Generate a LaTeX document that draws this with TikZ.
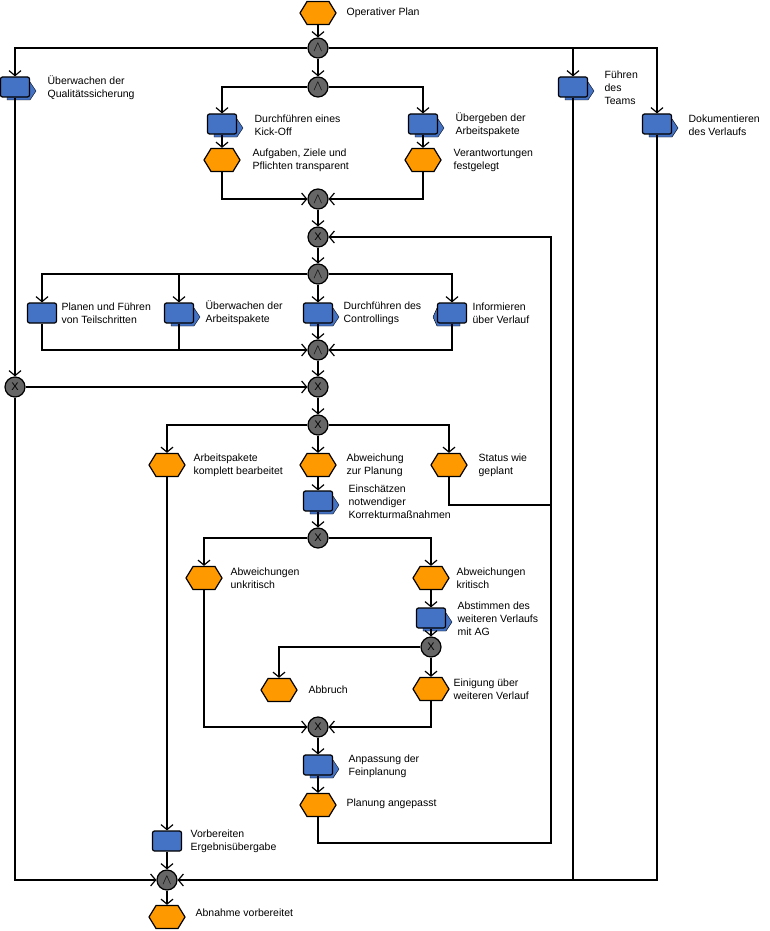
\documentclass[tikz,border=0pt]{standalone}
\usepackage{fontspec}
\setmainfont{Liberation Sans}
\usetikzlibrary{shapes.symbols,arrows.meta,backgrounds}
\definecolor{ereignisorange}{HTML}{FF9900}
\definecolor{funktionblau}{HTML}{4472C4}
\definecolor{konngrau}{HTML}{666666}
\newcommand{\und}{{\fontsize{15}{15}\selectfont$\land$}}
\tikzset{
  ereignis/.style={signal, signal to=west and east, signal pointer angle=117,
    draw, fill=ereignisorange, minimum width=36pt, minimum height=23pt, inner sep=0pt},
  funktion/.style={draw, fill=funktionblau, rounded corners=2pt,
    minimum width=29pt, minimum height=20pt, inner sep=0pt},
  konnektor/.style={circle, draw, fill=konngrau, minimum size=20pt, inner sep=0pt,
    font=\fontsize{11}{11}\selectfont},
  beschriftung/.style={anchor=west, align=left, inner sep=0pt,
    font=\fontsize{10.5}{13}\selectfont},
  fluss/.style={-{Straight Barb[length=5pt,width=12pt]}}
}
\begin{document}
\begin{tikzpicture}[x=1pt,y=-1pt,line width=1.2pt]
        \useasboundingbox (0,0) rectangle (770,931);
        % Ereignisse
        \node[ereignis] (plan) at (318,13) {};
        \node[ereignis] (aufg) at (222,160) {};
        \node[ereignis] (verant) at (423,160) {};
        \node[ereignis] (komplett) at (167,465) {};
        \node[ereignis] (abw) at (318,465) {};
        \node[ereignis] (status) at (449,465) {};
        \node[ereignis] (unkrit) at (204,578) {};
        \node[ereignis] (krit) at (431,578) {};
        \node[ereignis] (abbruch) at (279,690) {};
        \node[ereignis] (einig) at (431,689) {};
        \node[ereignis] (angep) at (318,805) {};
        \node[ereignis] (abnahme) at (167,917) {};
        % Funktionen
        \node[funktion] (qs) at (15,87) {};
        \node[funktion] (kick) at (222,124) {};
        \node[funktion] (uebergabe) at (423,124) {};
        \node[funktion] (team) at (573,87) {};
        \node[funktion] (doku) at (657,124) {};
        \node[funktion] (planen) at (42,313) {};
        \node[funktion] (ueberap) at (179,313) {};
        \node[funktion] (contr) at (318,313) {};
        \node[funktion] (info) at (452,313) {};
        \node[funktion] (einsch) at (318,501) {};
        \node[funktion] (abst) at (431,618) {};
        \node[funktion] (anp) at (318,765) {};
        \node[funktion] (vorb) at (167,841) {};
        % Hinterlegte Prozesse
        \begin{scope}[on background layer]
            \foreach \f in {qs,kick,uebergabe,team,doku,ueberap,contr,einsch,abst,anp}{
                \draw[fill=funktionblau] ([shift={(-8,13)}]\f.center) -- ([shift={(15,13)}]\f.center)
                    -- ([shift={(21,4)}]\f.center) -- ([shift={(15,-5)}]\f.center)
                    -- ([shift={(-8,-5)}]\f.center) -- cycle;
            }
            \draw[fill=funktionblau] ([shift={(8,13)}]info.center) -- ([shift={(-15,13)}]info.center)
                -- ([shift={(-19,4)}]info.center) -- ([shift={(-15,-5)}]info.center)
                -- ([shift={(8,-5)}]info.center) -- cycle;
        \end{scope}
        % Konnektoren
        \node[konnektor] (and1) at (318,48) {\und};
        \node[konnektor] (and2) at (318,87) {\und};
        \node[konnektor] (and3) at (318,199) {\und};
        \node[konnektor] (xor1) at (318,237) {X};
        \node[konnektor] (and4) at (318,274) {\und};
        \node[konnektor] (and5) at (318,350) {\und};
        \node[konnektor] (xorl) at (15,387) {X};
        \node[konnektor] (xor2) at (318,387) {X};
        \node[konnektor] (xor3) at (318,425) {X};
        \node[konnektor] (xor4) at (318,538) {X};
        \node[konnektor] (xor5) at (431,647) {X};
        \node[konnektor] (xor6) at (318,727) {X};
        \node[konnektor] (and7) at (167,880) {\und};
        \coordinate (rueck) at (551,237);
        \coordinate (rueckmitte) at (551,505);
        \coordinate (rueckende) at (551,843);
        % Beschriftungen
        \node[beschriftung] (plan-t) at (346,13) {Operativer Plan};
        \node[beschriftung] (qs-t) at (47,88) {Überwachen der\\Qualitätssicherung};
        \node[beschriftung] (kick-t) at (254,125) {Durchführen eines\\Kick-Off};
        \node[beschriftung] (aufg-t) at (252,160) {Aufgaben, Ziele und\\Pflichten transparent};
        \node[beschriftung] (uebergabe-t) at (455,125) {Übergeben der\\Arbeitspakete};
        \node[beschriftung] (verant-t) at (453,160) {Verantwortungen\\festgelegt};
        \node[beschriftung] (team-t) at (604,88) {Führen\\des\\Teams};
        \node[beschriftung] (doku-t) at (688,125) {Dokumentieren\\des Verlaufs};
        \node[beschriftung] (planen-t) at (61,313) {Planen und Führen\\von Teilschritten};
        \node[beschriftung] (ueberap-t) at (205,313) {Überwachen der\\Arbeitspakete};
        \node[beschriftung] (contr-t) at (343,313) {Durchführen des\\Controllings};
        \node[beschriftung] (info-t) at (472,313) {Informieren\\über Verlauf};
        \node[beschriftung] (komplett-t) at (193,465) {Arbeitspakete\\komplett bearbeitet};
        \node[beschriftung] (abw-t) at (346,465) {Abweichung\\zur Planung};
        \node[beschriftung] (status-t) at (478,465) {Status wie\\geplant};
        \node[beschriftung] (einsch-t) at (348,502) {Einschätzen\\notwendiger\\Korrekturmaßnahmen};
        \node[beschriftung] (unkrit-t) at (230,578) {Abweichungen\\unkritisch};
        \node[beschriftung] (krit-t) at (456,578) {Abweichungen\\kritisch};
        \node[beschriftung] (abst-t) at (457,619) {Abstimmen des\\weiteren Verlaufs\\mit AG};
        \node[beschriftung] (abbruch-t) at (308,690) {Abbruch};
        \node[beschriftung] (einig-t) at (453,689) {Einigung über\\weiteren Verlauf};
        \node[beschriftung] (anp-t) at (348,766) {Anpassung der\\Feinplanung};
        \node[beschriftung] (angep-t) at (346,804) {Planung angepasst};
        \node[beschriftung] (vorb-t) at (190,841) {Vorbereiten\\Ergebnisübergabe};
        \node[beschriftung] (abnahme-t) at (195,913) {Abnahme vorbereitet};
        % Kontrollfluss
        \draw[fluss] (plan) -- (and1);
        \draw[fluss] (and1) -| (qs);
        \draw[fluss] (and1) -- (and2);
        \draw[fluss] (and1) -| (team);
        \draw[fluss] (and1) -| (doku);
        \draw[fluss] (and2) -| (kick);
        \draw[fluss] (and2) -| (uebergabe);
        \draw[fluss] (kick) -- (aufg);
        \draw[fluss] (uebergabe) -- (verant);
        \draw[fluss] (aufg) |- (and3);
        \draw[fluss] (verant) |- (and3);
        \draw[fluss] (and3) -- (xor1);
        \draw[fluss] (xor1) -- (and4);
        \draw[fluss] (and4) -| (planen);
        \draw[fluss] (and4) -| (ueberap);
        \draw[fluss] (and4) -- (contr);
        \draw[fluss] (and4) -| (info);
        \draw[fluss] (planen) |- (and5);
        \draw (ueberap) -- (ueberap |- and5);
        \draw[fluss] (contr) -- (and5);
        \draw[fluss] (info) |- (and5);
        \draw[fluss] (and5) -- (xor2);
        \draw[fluss] (qs) -- (xorl);
        \draw[fluss] (xorl) -- (xor2);
        \draw[fluss] (xor2) -- (xor3);
        \draw[fluss] (xor3) -| (komplett);
        \draw[fluss] (xor3) -- (abw);
        \draw[fluss] (xor3) -| (status);
        \draw[fluss] (status) |- (rueckmitte) -- (rueck) -- (xor1);
        \draw (angep) |- (rueckende) -- (rueckmitte);
        \draw[fluss] (abw) -- (einsch);
        \draw[fluss] (einsch) -- (xor4);
        \draw[fluss] (xor4) -| (unkrit);
        \draw[fluss] (xor4) -| (krit);
        \draw[fluss] (krit) -- (abst);
        \draw[fluss] (abst) -- (xor5);
        \draw[fluss] (xor5) -| (abbruch);
        \draw[fluss] (xor5) -- (einig);
        \draw[fluss] (unkrit) |- (xor6);
        \draw[fluss] (einig) |- (xor6);
        \draw[fluss] (xor6) -- (anp);
        \draw[fluss] (anp) -- (angep);
        \draw[fluss] (komplett) -- (vorb);
        \draw[fluss] (vorb) -- (and7);
        \draw[fluss] (xorl) |- (and7);
        \draw (team) -- (team |- and7);
        \draw[fluss] (doku) |- (and7);
        \draw[fluss] (and7) -- (abnahme);
    \end{tikzpicture}
\end{document}
